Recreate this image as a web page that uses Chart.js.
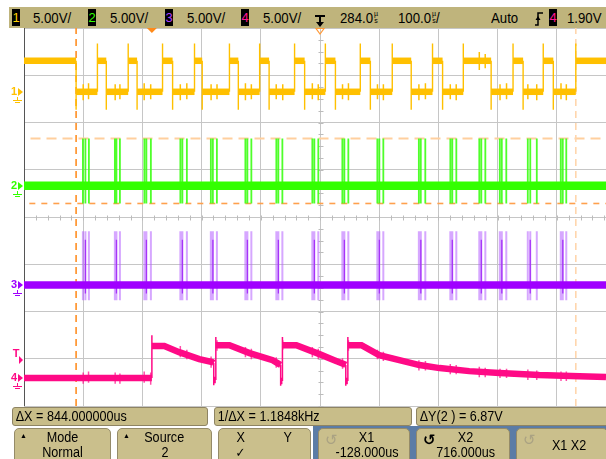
<!DOCTYPE html>
<html>
<head>
<meta charset="utf-8">
<title>4-channel capture</title>
<script src="https://cdn.jsdelivr.net/npm/chart.js@4.4.1/dist/chart.umd.min.js"></script>
<style>
  html, body { margin: 0; padding: 0; background: #fff; }
  body { width: 606px; height: 459px; overflow: hidden; position: relative;
         font-family: 'Liberation Sans', Arial, sans-serif; color: #000; }
  #scope { position: absolute; left: 0; top: 0; }
  #topbar { position: absolute; left: 9px; top: 7px; width: 597px; height: 21px; background: #bfb47c; }
  .tx { position: absolute; top: 8px; font-size: 15px; line-height: 20px; white-space: nowrap;
        transform: scaleX(0.88); transform-origin: 0 50%; }
  .chbox { position: absolute; top: 9px; width: 8px; height: 17px; background: #000;
           font-size: 13px; line-height: 17px; text-align: center; }
  .us { display: inline-block; font-size: 8px; line-height: 7px; vertical-align: top; margin: 2px 0 0 1px; text-align: center; }
  .icon { position: absolute; }
  .stat { position: absolute; top: 407px; height: 19px; background: #c8bd89; border: 1px solid #8e8463;
          border-radius: 3px; box-sizing: border-box; font-size: 14px; line-height: 17px; white-space: nowrap; overflow: hidden; }
  .stat span { display: inline-block; transform: scaleX(0.9); transform-origin: 0 50%; padding-left: 3px; }
  #blue { position: absolute; left: 313px; top: 426px; width: 293px; height: 33px; background: #5b7ca6; }
  .key { position: absolute; top: 428px; height: 34px; background: #cabf8c; border: 1px solid #958b69;
         border-radius: 5px 5px 0 0; box-sizing: border-box; font-size: 14px; }
  .key .ln { position: absolute; left: 0; right: 0; text-align: center; line-height: 15px; white-space: nowrap; }
  .key .ln span { display: inline-block; transform: scaleX(0.9); }
  .key .up { position: absolute; left: 5px; top: 3px; font-size: 7px; line-height: 8px; }
  .key .rot { position: absolute; left: 6px; top: 3px; font-size: 15px; line-height: 16px; font-family: 'DejaVu Sans', sans-serif; }
</style>
</head>
<body>
<canvas id="scope" width="606" height="459"></canvas>

<div id="topbar"></div>
<div class="chbox" style="left:12px;color:#ffd000">1</div>
<div class="tx" style="left:33px">5.00V/</div>
<div class="chbox" style="left:88px;color:#33ff00">2</div>
<div class="tx" style="left:110px">5.00V/</div>
<div class="chbox" style="left:165px;color:#b040ff">3</div>
<div class="tx" style="left:187px">5.00V/</div>
<div class="chbox" style="left:241px;color:#ff1493">4</div>
<div class="tx" style="left:263px">5.00V/</div>
<svg class="icon" style="left:313px;top:11px" width="14" height="17" viewBox="0 0 14 17">
  <path d="M2 5 H12 M7 5 V12" stroke="#000" stroke-width="2" fill="none"/>
  <path d="M3 11 L11 11 L7 16 Z" fill="#000"/>
</svg>
<div class="tx" id="delayTxt" style="left:340px"></div>
<div class="tx" id="timebaseTxt" style="left:398px"></div>
<div class="tx" style="left:491px">Auto</div>
<svg class="icon" style="left:534px;top:10px" width="10" height="18" viewBox="0 0 10 18">
  <path d="M1 15 H4 V3 H9" stroke="#000" stroke-width="1.5" fill="none"/>
  <path d="M1.5 10 L4 6 L6.5 10 Z" fill="#000"/>
</svg>
<div class="chbox" style="left:549px;color:#ff1493">4</div>
<div class="tx" id="trigTxt" style="left:567px"></div>

<div class="stat" style="left:12px;width:196px"><span id="dxTxt"></span></div>
<div class="stat" style="left:214px;width:198px"><span id="invTxt"></span></div>
<div class="stat" style="left:416px;width:196px"><span id="dyTxt"></span></div>

<div id="blue"></div>
<div class="key" style="left:14px;width:97px"><div class="up">▲</div>
  <div class="ln" style="top:1px"><span>Mode</span></div><div class="ln" style="top:16px"><span>Normal</span></div></div>
<div class="key" style="left:117px;width:95px"><div class="up">▲</div>
  <div class="ln" style="top:1px"><span>Source</span></div><div class="ln" style="top:16px"><span>2</span></div></div>
<div class="key" style="left:218px;width:93px">
  <div class="ln" style="top:1px;text-align:left;padding-left:17px"><span>X</span></div>
  <div class="ln" style="top:1px;text-align:left;padding-left:64px"><span>Y</span></div>
  <div class="ln" style="top:16px;text-align:left;padding-left:16px;font-family:'DejaVu Sans',sans-serif;font-size:13px"><span>✓</span></div></div>
<div class="key" style="left:318px;width:92px"><div class="rot" style="color:#aaa283">↺</div>
  <div class="ln" style="top:1px;padding-left:6px"><span>X1</span></div><div class="ln" style="top:16px;padding-left:6px"><span id="x1Txt"></span></div></div>
<div class="key" style="left:416px;width:94px"><div class="rot" style="color:#000;font-weight:bold">↺</div>
  <div class="ln" style="top:1px;padding-left:6px"><span>X2</span></div><div class="ln" style="top:16px;padding-left:6px"><span id="x2Txt"></span></div></div>
<div class="key" style="left:516px;width:92px"><div class="rot" style="color:#aaa283">↺</div>
  <div class="ln" style="top:9px;padding-left:14px"><span>X1 X2</span></div></div>

<script>
// ---- acquisition settings ----
const US_PER_DIV = 100;
const DELAY_US = 284;
const VOLTS_PER_DIV = 5;
const TIME_MIN = DELAY_US - 5 * US_PER_DIV;   // left edge of graticule
const TIME_MAX = 767;                          // right edge of the visible screen
const CH_POSITION_DIV = [2.65, 0.66, -1.44, -3.41]; // ground reference of each channel, divisions from centre
const TRIGGER_LEVEL = 1.90;                    // channel 4
const CH_COLORS = ['#ffc000', '#33ff00', '#a000ff', '#ff0a86'];

// ---- cursors ----
const CURSOR_X1 = -128;
const CURSOR_X2 = 716;
const CURSOR_Y1 = 5.00;   // channel 2
const CURSOR_Y2 = -1.87;  // channel 2

// ---- channel 1: logic level, toggle instants in µs (starts high) ----
const ch1Edges = [-128, -92, -77, -40, -25, 18, 35, 72, 85, 131, 146, 182, 198, 241, 258, 293,
                  310, 352, 369, 406, 438, 474, 491, 526, 573, 610, 627, 661, 678, 716];
const CH1_HIGH = 3.28, CH1_LOW = 0, CH1_OVERSHOOT = 5.1, CH1_UNDERSHOOT = -1.9;
// noise spikes on channel 1: [time, low V, high V]
const ch1Glitches = [
  [-116, -0.9, 0.8], [-107, -0.8, 0.9], [-62, -0.9, 0.8], [-54, -0.8, 0.8], [-13, -0.9, 0.9], [-2, -0.8, 0.8],
  [48, -0.9, 0.8], [59, -0.8, 0.9], [100, -0.9, 0.8], [110, -0.8, 0.8], [158, -0.9, 0.9], [168, -0.8, 0.8],
  [210, -0.8, 0.8], [221, -0.9, 0.8], [271, -0.8, 0.9], [281, -0.9, 0.8], [322, -0.8, 0.8], [332, -0.9, 0.9],
  [381, -0.8, 0.8], [391, -0.9, 0.8], [451, -0.9, 0.8], [462, -0.8, 0.9], [504, -0.8, 0.8], [514, -0.9, 0.8],
  [553, 2.3, 4.2], [563, 2.5, 4.0], [588, -0.9, 0.8], [599, -0.8, 0.9], [635, -0.8, 0.8], [650, -0.9, 0.8],
  [691, -0.8, 0.9], [700, -0.9, 0.8]
];

// ---- channels 2 and 3: data bursts (µs) ----
const burstTimes = [
  -116.5, -112.3, -106.4,  -62.5, -59.9, -54.0,  -12.7, -9.3, -1.7,  48.1, 51.5, 59.1,
  99.6, 103.0, 109.8,  157.9, 161.3, 168.0,  210.2, 213.6, 220.4,  271.0, 274.4, 281.1,
  321.7, 325.1, 331.8,  380.8, 384.2, 390.9,  450.9, 454.2, 461.8,  504.1, 507.4, 514.2,
  553.0, 556.4, 563.2,  587.6, 591.0, 598.6,  634.9, 639.1, 650.1,  690.6, 694.0, 699.9
];
const CH2_IDLE = 0, CH2_BURST_HIGH = 5.0, CH2_BURST_LOW = -1.87;
const CH3_IDLE = 0, CH3_SPIKE_HIGH = 5.7, CH3_SPIKE_LOW = -1.6;

// ---- channel 4: analog trace ----
const ch4Time  = [-216, 0, 0, 0, 21, 46, 80, 102, 104.5, 104.5, 104.5, 108, 108, 108, 131, 165, 204, 215,
                  217.5, 217.5, 217.5, 220.5, 220.5, 220.5, 244, 283, 308, 325, 327.5, 327.5, 327.5, 331, 331, 331,
                  354, 384, 418, 452, 486, 536, 587, 654, 722, 767];
const ch4Volts = [0, 0, 4.55, 3.39, 3.39, 2.75, 2.01, 1.69, 1.6, -0.75, -0.2, -0.2, 4.34, 3.49, 3.49, 2.65, 1.90, 1.48,
                  1.4, -0.8, -0.3, -0.3, 4.34, 3.49, 3.49, 2.54, 1.90, 1.48, 1.4, -0.8, -0.3, -0.3, 4.34, 3.49,
                  3.49, 2.43, 1.90, 1.38, 1.06, 0.74, 0.53, 0.32, 0.21, 0.11];
const ch4Glitches = [
  [-116, -0.6, 0.6], [-107, -0.5, 0.7], [-62, -0.6, 0.6], [-54, -0.6, 0.5], [-13, -0.5, 0.7], [-2, -0.7, 0.6],
  [48, 2.2, 3.4], [59, 2.0, 3.0], [100, 1.1, 2.3], [110, 2.9, 4.0], [158, 2.2, 3.3], [168, 2.0, 3.1],
  [210, 1.1, 2.2], [221, 3.0, 4.0], [271, 2.2, 3.3], [281, 2.0, 3.1], [322, 1.0, 2.1], [332, 2.9, 4.0],
  [381, 2.0, 3.0], [391, 1.8, 2.8], [451, 0.8, 1.9], [462, 0.8, 1.8], [504, 0.4, 1.5], [514, 0.4, 1.4],
  [553, 0.1, 1.2], [563, 0.1, 1.1], [588, 0.0, 1.0], [599, 0.0, 1.0], [635, -0.2, 0.9], [650, -0.2, 0.8],
  [691, -0.3, 0.7], [700, -0.3, 0.7]
];

// ---- build point lists ----
function logicTrace(edges, high, low, over, under) {
  let level = high;
  const pts = [{ x: TIME_MIN, y: level }];
  edges.forEach(t => {
    const rising = level === low;
    pts.push({ x: t, y: level });
    pts.push({ x: t, y: rising ? over : under });
    level = rising ? high : low;
    pts.push({ x: t, y: level });
  });
  pts.push({ x: TIME_MAX, y: level });
  return pts;
}
function strokes(list) {
  const pts = [];
  list.forEach(([t, lo, hi]) => pts.push({ x: t, y: lo }, { x: t, y: hi }, { x: t, y: null }));
  return pts;
}
const flat = (v) => [{ x: TIME_MIN, y: v }, { x: TIME_MAX, y: v }];
const vertical = (t) => [{ x: t, y: -4 }, { x: t, y: 4 }];

// thick bands for levels, thin strokes for edges
const bandWidth = (thick, thin) => ({
  borderWidth: ctx => Math.abs(ctx.p0.x - ctx.p1.x) < 0.01 ? thin : thick
});

function chAxis(i) {
  const p = CH_POSITION_DIV[i];
  return { type: 'linear', display: false, min: (-4 - p) * VOLTS_PER_DIV, max: (4 - p) * VOLTS_PER_DIV };
}

const base = { pointRadius: 0, tension: 0, borderCapStyle: 'butt', fill: false, spanGaps: false };

const datasets = [
  // cursors (underneath traces)
  { ...base, data: vertical(CURSOR_X1), yAxisID: 'yg', borderColor: '#ff9530', borderWidth: 1.7, borderDash: [7, 5], order: 10 },
  { ...base, data: vertical(CURSOR_X2), yAxisID: 'yg', borderColor: '#ffd6ad', borderWidth: 1.6, borderDash: [7, 5], order: 10 },
  { ...base, data: [{ x: -205, y: CURSOR_Y1 }, { x: TIME_MAX, y: CURSOR_Y1 }], yAxisID: 'y2', borderColor: '#ffcf9e', borderWidth: 2, borderDash: [10, 6], order: 10 },
  { ...base, data: [{ x: -207, y: CURSOR_Y2 }, { x: TIME_MAX, y: CURSOR_Y2 }], yAxisID: 'y2', borderColor: '#ffa04d', borderWidth: 1.6, borderDash: [6, 6], order: 10 },

  // channel 1
  { ...base, data: strokes(ch1Glitches), yAxisID: 'y1', borderColor: CH_COLORS[0], borderWidth: 1.5, order: 3 },
  { ...base, data: logicTrace(ch1Edges, CH1_HIGH, CH1_LOW, CH1_OVERSHOOT, CH1_UNDERSHOOT), yAxisID: 'y1',
    borderColor: CH_COLORS[0], borderWidth: 6, segment: bandWidth(6.5, 1.4), order: 2 },

  // channel 2
  { ...base, data: strokes(burstTimes.map(t => [t, CH2_BURST_LOW, CH2_BURST_HIGH])), yAxisID: 'y2',
    borderColor: 'rgba(60,255,20,0.9)', borderWidth: 1.8, order: 3 },
  { ...base, data: flat(CH2_IDLE), yAxisID: 'y2', borderColor: CH_COLORS[1], borderWidth: 8.5, order: 2 },

  // channel 3
  { ...base, data: strokes(burstTimes.map(t => [t, CH3_SPIKE_LOW, CH3_SPIKE_HIGH])), yAxisID: 'y3',
    borderColor: 'rgba(180,95,255,0.55)', borderWidth: 2, order: 3 },
  { ...base, data: strokes(burstTimes.filter((t, i) => i % 3 === 1).map(t => [t, -0.9, 4.8])), yAxisID: 'y3',
    borderColor: '#9400f0', borderWidth: 1.3, order: 3 },
  { ...base, data: flat(CH3_IDLE), yAxisID: 'y3', borderColor: CH_COLORS[2], borderWidth: 7.5, order: 2 },

  // channel 4
  { ...base, data: strokes(ch4Glitches), yAxisID: 'y4', borderColor: 'rgba(255,20,140,0.75)', borderWidth: 1.5, order: 3 },
  { ...base, data: ch4Time.map((t, i) => ({ x: t, y: ch4Volts[i] })), yAxisID: 'y4',
    borderColor: CH_COLORS[3], borderWidth: 6, borderJoinStyle: 'miter', segment: bandWidth(6.5, 1.5), order: 2 }
];

// graticule details, channel markers and trigger markers
const screenOverlay = {
  id: 'screenOverlay',
  beforeDatasetsDraw(chart) {
    const { ctx, chartArea: a, scales } = chart;
    const xs = scales.x, yg = scales.yg;
    ctx.save();
    ctx.strokeStyle = '#bcbcbc';
    ctx.lineWidth = 1;
    const cx = Math.round(xs.getPixelForValue(DELAY_US)) + 0.5;
    const cy = Math.round(yg.getPixelForValue(0)) + 0.5;
    ctx.beginPath();
    for (let d = -4; d <= 4; d += 0.25) {
      const y = Math.round(yg.getPixelForValue(d)) + 0.5;
      ctx.moveTo(cx - 2, y); ctx.lineTo(cx + 3, y);
    }
    for (let t = TIME_MIN; t <= TIME_MAX; t += US_PER_DIV / 5) {
      const x = Math.round(xs.getPixelForValue(t)) + 0.5;
      ctx.moveTo(x, cy - 2); ctx.lineTo(x, cy + 3);
    }
    ctx.stroke();
    ctx.strokeStyle = '#555';
    ctx.beginPath();
    ctx.moveTo(a.left + 0.5, a.top); ctx.lineTo(a.left + 0.5, a.bottom);
    ctx.stroke();
    ctx.restore();
  },
  afterDraw(chart) {
    const { ctx, scales } = chart;
    ctx.save();
    ctx.font = 'bold 11px "Liberation Sans", Arial, sans-serif';
    ctx.textAlign = 'center';
    ctx.textBaseline = 'middle';
    CH_COLORS.forEach((c, i) => {
      const y = Math.round(scales['y' + (i + 1)].getPixelForValue(0));
      ctx.fillStyle = c; ctx.strokeStyle = c; ctx.lineWidth = 1;
      ctx.fillText(String(i + 1), 14, y);
      ctx.beginPath(); ctx.moveTo(18, y - 4); ctx.lineTo(23, y); ctx.lineTo(18, y + 4); ctx.closePath(); ctx.fill();
      ctx.beginPath();
      ctx.moveTo(17.5, y + 5); ctx.lineTo(17.5, y + 8);
      ctx.moveTo(13, y + 8.5); ctx.lineTo(22, y + 8.5);
      ctx.moveTo(15, y + 10.5); ctx.lineTo(20, y + 10.5);
      ctx.stroke();
    });
    // trigger level on channel 4
    const ty = Math.round(scales.y4.getPixelForValue(TRIGGER_LEVEL));
    ctx.fillStyle = CH_COLORS[3];
    ctx.fillText('T', 16, ty - 6);
    ctx.beginPath(); ctx.moveTo(19, ty - 4); ctx.lineTo(23, ty); ctx.lineTo(19, ty + 4); ctx.closePath(); ctx.fill();
    // trigger point and delay reference along the top edge
    const top = chart.chartArea.top;
    const xt = scales.x.getPixelForValue(0);
    ctx.fillStyle = '#ff8a1a';
    ctx.beginPath(); ctx.moveTo(xt - 5, top); ctx.lineTo(xt + 5, top); ctx.lineTo(xt, top + 5); ctx.closePath(); ctx.fill();
    const xd = scales.x.getPixelForValue(DELAY_US);
    ctx.strokeStyle = '#ff9a3a'; ctx.lineWidth = 1.2;
    ctx.beginPath(); ctx.moveTo(xd - 4, top + 0.5); ctx.lineTo(xd + 4, top + 0.5); ctx.lineTo(xd, top + 6); ctx.closePath(); ctx.stroke();
    ctx.restore();
  }
};

new Chart(document.getElementById('scope'), {
  type: 'line',
  data: { datasets },
  options: {
    responsive: false,
    animation: false,
    devicePixelRatio: 1,
    events: [],
    layout: { padding: { left: 24, top: 28, right: 0, bottom: 53 } },
    plugins: { legend: { display: false }, tooltip: { enabled: false } },
    scales: {
      x: {
        type: 'linear', min: TIME_MIN, max: TIME_MAX,
        ticks: { display: false },
        afterBuildTicks: axis => {
          const ticks = [];
          for (let t = TIME_MIN; t <= TIME_MAX; t += US_PER_DIV) ticks.push({ value: t });
          axis.ticks = ticks;
        },
        grid: { color: '#c6c6c6', lineWidth: 1, drawTicks: false },
        border: { display: false }
      },
      yg: {
        type: 'linear', position: 'left', min: -4, max: 4,
        ticks: { display: false, stepSize: 1 },
        grid: { color: '#c6c6c6', lineWidth: 1, drawTicks: false },
        border: { display: false }
      },
      y1: chAxis(0), y2: chAxis(1), y3: chAxis(2), y4: chAxis(3)
    }
  },
  plugins: [screenOverlay]
});

// readouts
const us = '<span class="us">µ<br>s</span>';
document.getElementById('delayTxt').innerHTML = DELAY_US.toFixed(1) + us;
document.getElementById('timebaseTxt').innerHTML = US_PER_DIV.toFixed(1) + us + '/';
document.getElementById('trigTxt').textContent = TRIGGER_LEVEL.toFixed(2) + 'V';
const dx = CURSOR_X2 - CURSOR_X1;
document.getElementById('dxTxt').textContent = 'ΔX = ' + dx.toFixed(6) + 'us';
document.getElementById('invTxt').textContent = '1/ΔX = ' + (1000 / dx).toFixed(4) + 'kHz';
document.getElementById('dyTxt').textContent = 'ΔY(2 ) = ' + (CURSOR_Y1 - CURSOR_Y2).toFixed(2) + 'V';
document.getElementById('x1Txt').textContent = CURSOR_X1.toFixed(3) + 'us';
document.getElementById('x2Txt').textContent = CURSOR_X2.toFixed(3) + 'us';
</script>
</body>
</html>
